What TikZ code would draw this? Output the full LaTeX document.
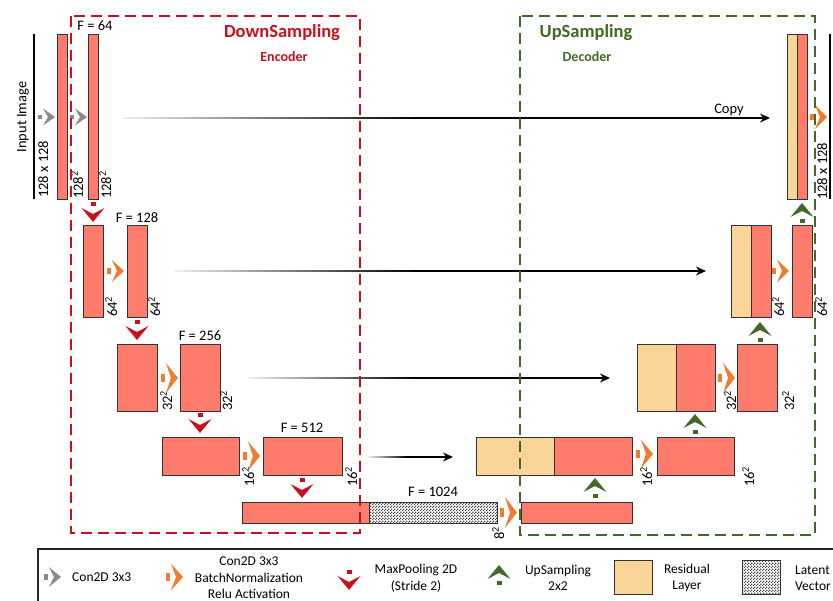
\documentclass[tikz,border=0pt]{standalone}
\usepackage{fontspec}
\setmainfont{Carlito}
\usetikzlibrary{arrows.meta,calc,patterns}

\definecolor{convred}{HTML}{FF7B6B}
\definecolor{restan}{HTML}{FAD597}
\definecolor{encred}{HTML}{C8101E}
\definecolor{decgreen}{HTML}{3F6B26}
\definecolor{bnorange}{HTML}{ED7D31}
\definecolor{convgray}{HTML}{8A8A8A}

\pgfdeclarepatternformonly{finecheck}{\pgfpointorigin}{\pgfqpoint{3pt}{3pt}}{\pgfqpoint{3pt}{3pt}}{%
  \pgfpathrectangle{\pgfpointorigin}{\pgfqpoint{1.5pt}{1.5pt}}%
  \pgfpathrectangle{\pgfqpoint{1.5pt}{1.5pt}}{\pgfqpoint{1.5pt}{1.5pt}}%
  \pgfusepath{fill}}

\begin{document}
\begin{tikzpicture}[x=1pt,y=-1pt,
  every node/.style={font=\fontsize{14.5}{17}\selectfont,inner sep=0pt},
  legend/.style={font=\fontsize{13.5}{16.5}\selectfont},
  wh/.style 2 args={minimum width=#1,minimum height=#2},
  blk/.style={draw=black!80,line width=0.9pt,fill=convred},
  resblk/.style={blk,fill=restan},
  latblk/.style={draw=black!80,line width=0.9pt,pattern=finecheck,pattern color=black!70},
  dim/.style={rotate=90,anchor=north west},
  copy/.style={line width=1.3pt,-{Stealth[length=10pt,width=9pt]}},
  rchev/.pic={\fill (-17,-3) rectangle (-13,3);
    \fill (0,0) -- (-12,-11) -- (-7,0) -- (-12,11) -- cycle;},
  dchev/.pic={\fill (-2.5,-20) rectangle (2.5,-16);
    \fill (0,0) -- (-11.5,-14) -- (0,-8) -- (11.5,-14) -- cycle;},
  uchev/.pic={\fill (-2.5,16) rectangle (2.5,20);
    \fill (0,0) -- (-11.5,14) -- (0,8) -- (11.5,14) -- cycle;}]
  \useasboundingbox (0,0) rectangle (833,601);
  \clip (0,0) rectangle (833,601);

  % level 1
  \draw[line width=1.6pt] (34,34) -- (34,199);
  \draw[line width=1.6pt] (830,34) -- (830,199);
  \node[rotate=90] (inimg) at (23,117) {Input Image};
  \node[dim] (insz) at (38,198) {128 x 128};
  \node[dim] (outsz) at (817,200) {128 x 128};
  \node[blk,wh={10}{165}] (e1a) at (62,116.5) {};
  \node[blk,wh={10}{165}] (e1b) at (93,116.5) {};
  \node[resblk,wh={10}{165}] (d1t) at (792,116.5) {};
  \node[blk,wh={10}{165}] (d1r) at (802,116.5) {};
  \node[dim] (s1a) at (71,199) {128\textsuperscript{2}};
  \node[dim] (s1b) at (99,199) {128\textsuperscript{2}};
  \node (f64) at (95,26) {F = 64};
  \pic[convgray,yscale=0.77] at (55,117) {rchev};
  \pic[convgray,yscale=0.77] at (87,117) {rchev};
  \pic[bnorange,yscale=1.1] at (827,117) {rchev};

  % level 2
  \node[blk,wh={20}{92}] (e2a) at (93,271) {};
  \node[blk,wh={20}{92}] (e2b) at (137,271) {};
  \node[resblk,wh={20}{92}] (d2t) at (741,271) {};
  \node[blk,wh={20}{92}] (d2r) at (761,271) {};
  \node[blk,wh={20}{92}] (d2c) at (802,271) {};
  \node[dim] (s2a) at (105,317) {64\textsuperscript{2}};
  \node[dim] (s2b) at (148,317) {64\textsuperscript{2}};
  \node[dim] (s2c) at (772,317) {64\textsuperscript{2}};
  \node[dim] (s2d) at (815,317) {64\textsuperscript{2}};
  \node (f128) at (137,218) {F = 128};
  \pic[bnorange] at (124,271) {rchev};
  \pic[bnorange,yscale=1.05] at (789,271) {rchev};

  % level 3
  \node[blk,wh={40}{67}] (e3a) at (137,377.5) {};
  \node[blk,wh={40}{67}] (e3b) at (200.5,377.5) {};
  \node[resblk,wh={39}{67}] (d3t) at (656.5,377.5) {};
  \node[blk,wh={39}{67}] (d3r) at (695.5,377.5) {};
  \node[blk,wh={40}{67}] (d3c) at (757,377.5) {};
  \node[dim] (s3a) at (160,411) {32\textsuperscript{2}};
  \node[dim] (s3b) at (220,411) {32\textsuperscript{2}};
  \node[dim] (s3c) at (724,411) {32\textsuperscript{2}};
  \node[dim] (s3d) at (782,411) {32\textsuperscript{2}};
  \node (f256) at (200,336) {F = 256};
  \pic[bnorange,yscale=1.35] at (178,378) {rchev};
  \pic[bnorange,yscale=1.4] at (735,378) {rchev};

  % level 4
  \node[blk,wh={77}{38}] (e4a) at (200.5,456) {};
  \node[blk,wh={79}{38}] (e4b) at (302.5,456) {};
  \node[resblk,wh={78}{38}] (d4t) at (515,456) {};
  \node[blk,wh={78}{38}] (d4r) at (593,456) {};
  \node[blk,wh={77}{38}] (d4c) at (695.5,456) {};
  \node[dim] (s4a) at (242,487) {16\textsuperscript{2}};
  \node[dim] (s4b) at (345,487) {16\textsuperscript{2}};
  \node[dim] (s4c) at (640,487) {16\textsuperscript{2}};
  \node[dim] (s4d) at (742,487) {16\textsuperscript{2}};
  \node (f512) at (302,428) {F = 512};
  \pic[bnorange,yscale=1.35] at (260,456) {rchev};
  \pic[bnorange,yscale=1.3] at (653,454) {rchev};

  % level 5 (latent)
  \node[blk,wh={127}{21}] (lat) at (305.5,512.5) {};
  \node[latblk,wh={128}{21}] (latv) at (433,512.5) {};
  \node[blk,wh={111}{21}] (d5) at (576.5,512.5) {};
  \node[dim] (s5) at (492,540) {8\textsuperscript{2}};
  \node (f1024) at (433,492) {F = 1024};
  \pic[bnorange,yscale=1.4] at (517,512.5) {rchev};

  % max pooling and upsampling
  \pic[encred] at (93,222) {dchev};
  \pic[encred] at (137,340) {dchev};
  \pic[encred] at (200,433) {dchev};
  \pic[encred] at (302,498) {dchev};
  \pic[decgreen] at (802,203) {uchev};
  \pic[decgreen] at (760,322) {uchev};
  \pic[decgreen] at (695,414) {uchev};
  \pic[decgreen] at (595,478) {uchev};

  % copy connections
  \coordinate (cps1) at (122,118);  \coordinate (cpe1) at (770,118);
  \coordinate (cps2) at (174,271);  \coordinate (cpe2) at (706,271);
  \coordinate (cps3) at (249,378);  \coordinate (cpe3) at (610,378);
  \coordinate (cps4) at (368,457);  \coordinate (cpe4) at (453,457);
  \foreach \i in {1,...,4} {
    \shade[left color=black!6,right color=black]
      ($(cps\i)+(0,-0.65)$) rectangle ($(cps\i)!0.46!(cpe\i)+(0,0.65)$);
    \draw[copy] ($(cps\i)!0.45!(cpe\i)$) -- (cpe\i);
  }
  \node (cplbl) at (729,110) {Copy};

  % encoder / decoder frames
  \draw[encred,line width=1.6pt,dash pattern=on 11pt off 6pt] (71,16) rectangle (360,533);
  \draw[decgreen,line width=1.6pt,dash pattern=on 11pt off 6pt] (520,16) rectangle (815,535);
  \node[encred,font=\bfseries\fontsize{18.5}{20}\selectfont] (dstitle) at (282,33) {DownSampling};
  \node[encred,font=\bfseries\fontsize{14}{16}\selectfont] (enctitle) at (284,57) {Encoder};
  \node[decgreen,font=\bfseries\fontsize{18.5}{20}\selectfont] (ustitle) at (586,33) {UpSampling};
  \node[decgreen,font=\bfseries\fontsize{14}{16}\selectfont] (dectitle) at (587,57) {Decoder};

  % legend
  \draw[black!85,line width=1.4pt] (38,549) rectangle (850,620);
  \pic[convgray,yscale=0.9] at (61,577) {rchev};
  \node[legend,anchor=west] (lg1) at (72,577) {Con2D 3x3};
  \pic[bnorange,yscale=1.2] at (183,577) {rchev};
  \node[legend,align=center] (lg2) at (249,578) {Con2D 3x3\\BatchNormalization\\Relu Activation};
  \pic[encred] at (349,590) {dchev};
  \node[legend,align=center] (lg3) at (416,578) {MaxPooling 2D\\(Stride 2)};
  \pic[decgreen] at (499,565) {uchev};
  \node[legend,align=center] (lg4) at (558,578) {UpSampling\\2x2};
  \node[resblk,wh={38}{34}] (lgres) at (633,577) {};
  \node[legend,align=center] (lg5) at (687,578) {Residual\\Layer};
  \node[latblk,wh={38}{34}] (lglat) at (761,577) {};
  \node[legend,anchor=west,align=left] (lg6) at (795,578) {Latent\\Vector};
\end{tikzpicture}
\end{document}
